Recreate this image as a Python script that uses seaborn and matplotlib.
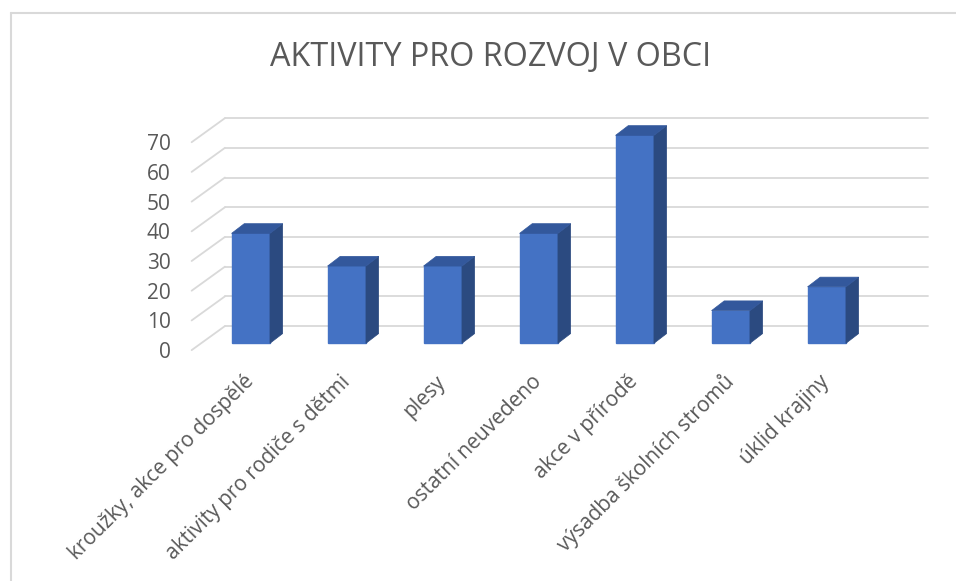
import matplotlib
matplotlib.use("Agg")
import matplotlib.pyplot as plt
import seaborn as sns
import pandas as pd
from matplotlib.patches import Polygon
from matplotlib.lines import Line2D

# data
kategorie = [
    "kroužky, akce pro dospělé",
    "aktivity pro rodiče s dětmi",
    "plesy",
    "ostatní neuvedeno",
    "akce v přírodě",
    "výsadba školních stromů",
    "úklid krajiny",
]
pocty = [37, 26, 26, 37, 70, 11, 19]
osa_y = [0, 10, 20, 30, 40, 50, 60, 70]
titulek = "AKTIVITY PRO ROZVOJ V OBCI"

MODRA = "#4472C4"
BOK = "#2B4A80"
VRCH = "#33589C"
MRIZKA = "#D9D9D9"
TEXT = "#595959"

sns.set_theme(style="white")
plt.rcParams['font.family'] = ['Open Sans', 'DejaVu Sans']

fig = plt.figure(figsize=(9.56, 5.81), dpi=100)
ax = fig.add_axes([0.2121, 0.3938, 0.7029, 0.4141])

df = pd.DataFrame({'aktivita': kategorie, 'pocet': pocty})
sns.barplot(data=df, x='aktivita', y='pocet', color=MODRA, width=0.4,
            saturation=1, ax=ax, zorder=3)

# 3D vzhled sloupců (bok + vršek)
dx, dy = 0.132, 3.27
for p in ax.patches:
    x, w, h = p.get_x(), p.get_width(), p.get_height()
    p.set_edgecolor(MODRA)
    bok = Polygon([(x + w, 0), (x + w + dx, dy), (x + w + dx, h + dy), (x + w, h)],
                  closed=True, facecolor=BOK, edgecolor=BOK, lw=0.5, zorder=3)
    vrch = Polygon([(x, h), (x + dx, h + dy), (x + w + dx, h + dy), (x + w, h)],
                   closed=True, facecolor=VRCH, edgecolor=VRCH, lw=0.5, zorder=3)
    ax.add_patch(bok)
    ax.add_patch(vrch)

# mřížka na zadní stěně + šikmé čáry na boční stěně
x_predni, x_zadni, x_konec = -0.616, -0.269, 7.05
for v in osa_y:
    ax.plot([x_zadni, x_konec], [v + 5.8, v + 5.8], color=MRIZKA, lw=1.3,
            zorder=1, clip_on=False)
    ax.plot([x_predni, x_zadni], [v - 2.3, v + 5.8], color=MRIZKA, lw=1.3,
            zorder=1, clip_on=False)

ax.set_xlim(-0.5, 6.5)
ax.set_ylim(-3, 78)
ax.set_yticks([v - 2.3 for v in osa_y])
ax.set_yticklabels([str(v) for v in osa_y])
ax.tick_params(axis='y', length=0, pad=23, labelsize=15, labelcolor=TEXT)
ax.tick_params(axis='x', length=0, pad=19, labelsize=15, labelcolor=TEXT)
for lab in ax.get_xticklabels():
    lab.set_rotation(45)
    lab.set_ha('right')
    lab.set_va('center')
    lab.set_rotation_mode('anchor')
ax.set_xlabel('')
ax.set_ylabel('')
for s in ax.spines.values():
    s.set_visible(False)
ax.patch.set_alpha(0)

fig.text(491 / 956, 1 - 57.5 / 581, titulek, ha='center', va='center',
         fontsize=23.3, color=TEXT)

# rámeček grafu (jen vlevo a nahoře je vidět)
fig.add_artist(Line2D([11 / 956, 11 / 956], [0, 1 - 12.5 / 581],
                      transform=fig.transFigure, color=MRIZKA, lw=1.5))
fig.add_artist(Line2D([11 / 956, 1], [1 - 12.5 / 581, 1 - 12.5 / 581],
                      transform=fig.transFigure, color=MRIZKA, lw=1.5))

fig.savefig("out.png", dpi=100)
